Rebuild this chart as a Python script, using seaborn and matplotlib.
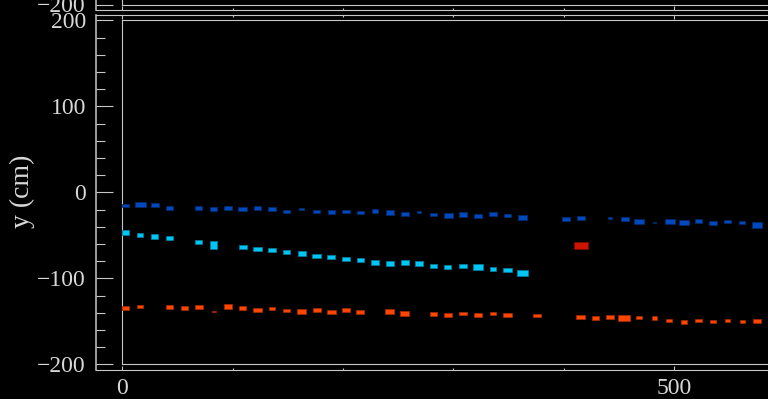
import numpy as np
import matplotlib
matplotlib.use("Agg")
import matplotlib.pyplot as plt
import seaborn as sns
from matplotlib.ticker import MultipleLocator, FixedLocator

# ---- hit data: x (cm), y (cm), box width (cm), box height (cm) ----
blue_x = [3.1, 16.3, 29.5, 42.8, 69.1, 82.5, 95.8, 108.9, 122.3, 135.7, 148.6, 162.6,
          175.8, 189.3, 202.7, 215.9, 229.3, 242.6, 256.0, 268.9, 282.2, 295.6, 308.8,
          322.5, 335.8, 349.1, 362.5, 401.9, 415.5, 442.0, 455.4, 468.5, 482.5, 496.1,
          508.9, 522.2, 535.5, 548.5, 561.8, 575.2]
blue_y = [-15.6, -14.4, -15.1, -17.9, -18.3, -19.7, -18.3, -19.7, -18.3, -19.7, -22.3,
          -19.7, -22.3, -23.1, -22.3, -23.5, -21.7, -23.7, -25.6, -23.1, -26.2, -27.0,
          -26.0, -27.3, -25.6, -26.7, -29.5, -31.0, -29.9, -29.9, -31.0, -34.0, -35.1,
          -34.0, -35.1, -33.6, -35.5, -34.2, -34.9, -37.8]
blue_w = [6.1, 9.7, 7.5, 6.9, 6.3, 6.6, 7.3, 8.2, 6.1, 6.7, 6.6, 4.8, 6.6, 6.3, 7.3, 6.3,
          5.4, 7.3, 7.0, 3.6, 6.1, 8.2, 7.3, 7.5, 7.0, 6.3, 8.4, 7.0, 7.0, 3.6, 7.0, 8.8,
          3.0, 9.1, 8.8, 6.9, 7.5, 6.3, 5.7, 9.1]
blue_h = [3.8, 6.2, 4.7, 4.7, 4.0, 4.3, 5.3, 4.3, 4.0, 4.3, 4.2, 2.7, 4.2, 4.3, 4.2, 3.5,
          4.0, 5.5, 4.7, 2.7, 3.5, 5.8, 5.5, 5.0, 4.7, 3.8, 5.5, 4.7, 4.7, 2.3, 4.7, 5.8,
          1.9, 5.8, 5.8, 5.0, 5.0, 3.8, 3.8, 6.6]

cyan_x = [3.1, 16.0, 29.5, 43.0, 69.1, 82.7, 109.2, 122.5, 135.5, 148.8, 162.7, 176.0,
          189.3, 202.6, 215.7, 229.2, 242.4, 255.9, 268.9, 282.2, 295.0, 308.6, 322.5,
          335.8, 349.1, 362.4]
cyan_y = [-46.7, -49.9, -51.2, -53.4, -57.6, -61.3, -63.4, -65.9, -66.9, -69.4, -71.4,
          -74.1, -75.0, -77.3, -79.0, -82.0, -82.6, -81.9, -82.8, -85.5, -86.6, -85.5,
          -86.9, -89.2, -90.6, -93.5]
cyan_w = [6.1, 6.0, 6.3, 6.1, 6.3, 6.9, 7.0, 8.2, 7.5, 6.9, 7.0, 7.6, 7.0, 7.5, 6.1, 7.5,
          7.0, 7.3, 7.3, 6.6, 6.3, 7.0, 9.3, 5.7, 8.2, 10.0]
cyan_h = [5.1, 4.3, 5.5, 4.3, 4.3, 9.3, 5.0, 5.3, 5.0, 5.3, 5.5, 5.3, 5.0, 5.0, 4.3, 5.8,
          5.5, 5.5, 5.8, 5.0, 4.3, 5.0, 6.3, 4.7, 5.0, 7.0]

orange_x = [3.1, 16.0, 42.8, 56.1, 69.5, 82.8, 95.8, 109.1, 122.5, 135.9, 149.0, 162.7,
            176.2, 189.4, 202.7, 215.6, 242.2, 255.6, 282.2, 295.4, 308.8, 322.4, 335.8,
            349.1, 375.7, 415.3, 428.7, 442.0, 454.9, 468.3, 482.3, 495.7, 508.9, 522.2,
            535.5, 548.5, 562.1, 575.4]
orange_y = [-134.5, -133.0, -133.6, -134.5, -133.6, -138.4, -133.1, -134.5, -137.1,
            -135.1, -137.7, -138.6, -137.1, -139.0, -137.1, -139.0, -138.6, -140.9,
            -141.5, -142.4, -141.2, -142.4, -141.2, -142.4, -143.0, -144.8, -146.4,
            -144.8, -146.2, -145.8, -146.4, -148.8, -150.6, -148.8, -150.2, -148.8,
            -150.2, -149.3]
orange_w = [6.1, 5.4, 6.9, 6.3, 7.3, 3.6, 7.8, 6.1, 8.2, 5.7, 6.6, 8.2, 7.3, 7.9, 7.3, 7.0,
            8.2, 7.9, 6.6, 7.0, 6.7, 7.3, 5.7, 8.2, 7.0, 8.2, 6.1, 6.7, 10.6, 5.4, 4.5, 5.7,
            5.2, 5.8, 5.2, 5.1, 5.1, 7.5]
orange_h = [4.7, 3.8, 5.0, 4.7, 5.0, 1.5, 5.8, 4.7, 5.0, 3.5, 3.8, 5.8, 5.0, 5.0, 5.0, 5.0,
            5.8, 5.8, 4.7, 5.0, 3.8, 5.0, 3.8, 5.0, 3.8, 5.0, 4.3, 5.0, 7.7, 3.8, 4.3, 3.8,
            4.3, 3.8, 3.5, 3.8, 3.5, 5.0]

red_x = [415.7]
red_y = [-61.9]
red_w = [12.7]
red_h = [8.1]

x_ticks_major = [0, 500]
y_limits = (-200, 200)
x_limits = (0, 600)
y_label = "y (cm)"

# ---- style ----
sns.set_theme(style="dark", rc={
    "figure.facecolor": "black",
    "axes.facecolor": "black",
    "savefig.facecolor": "black",
    "axes.edgecolor": "#c8c8c8",
    "text.color": "#d8d8d8",
    "axes.labelcolor": "#d8d8d8",
    "xtick.color": "#c8c8c8",
    "ytick.color": "#c8c8c8",
    "axes.grid": False,
})
plt.rcParams["font.family"] = ["Liberation Serif", "DejaVu Serif"]
plt.rcParams["axes.unicode_minus"] = True

W, H, DPI = 768, 399, 100
fig = plt.figure(figsize=(W / DPI, H / DPI), dpi=DPI)

PX_PER_X = 1.1034           # pixels per cm along x
FRAME_LEFT = 122.3          # pixel column of the frame edge
AXIS_SHIFT_Y = 26.3 * 72 / DPI   # ticked y axis sits left of the frame (pt)
AXIS_SHIFT_X = 5.8 * 72 / DPI    # ticked x axes sit outside the frame (pt)
LINE = "#c8c8c8"

ax_w = (x_limits[1] - x_limits[0]) * PX_PER_X / W
main_rect = [FRAME_LEFT / W, 1 - 364.3 / H, ax_w, 344 / H]
upper_rect = [FRAME_LEFT / W, 1 - 4.5 / H, ax_w, 344 / H]

cm_per_px_y = 400 / 344
ext_y = 5.8 * cm_per_px_y
ext_x = 26.3 / PX_PER_X


def make_frame(rect, sides):
    fr = fig.add_axes(rect)
    fr.set_xlim(*x_limits)
    fr.set_ylim(*y_limits)
    fr.set_xticks([])
    fr.set_yticks([])
    for name, sp in fr.spines.items():
        sp.set_visible(name in sides)
        sp.set_color(LINE)
        sp.set_linewidth(0.8)
    return fr


def make_axis(rect, top_axis, bottom_labels):
    a = fig.add_axes(rect)
    a.set_facecolor("none")
    a.set_xlim(*x_limits)
    a.set_ylim(*y_limits)
    a.spines["right"].set_visible(False)
    a.spines["top"].set_visible(top_axis)
    for name in ("left", "bottom", "top"):
        a.spines[name].set_color(LINE)
        a.spines[name].set_linewidth(0.8)
    a.spines["left"].set_linewidth(1.1)
    a.spines["left"].set_position(("outward", AXIS_SHIFT_Y))
    a.spines["bottom"].set_position(("outward", AXIS_SHIFT_X))
    a.spines["top"].set_position(("outward", AXIS_SHIFT_X))
    a.spines["left"].set_bounds(y_limits[0] - ext_y, y_limits[1] + (ext_y if top_axis else 0))
    a.spines["bottom"].set_bounds(x_limits[0] - ext_x, x_limits[1])
    a.spines["top"].set_bounds(x_limits[0] - ext_x, x_limits[1])

    a.yaxis.set_major_locator(MultipleLocator(100))
    a.yaxis.set_minor_locator(MultipleLocator(20))
    a.xaxis.set_major_locator(FixedLocator(x_ticks_major))
    a.xaxis.set_minor_locator(MultipleLocator(100))
    a.tick_params(axis="y", which="both", direction="in", left=True, right=False,
                  labelsize=17, pad=7.2, width=0.8, colors=LINE, labelcolor="#d8d8d8")
    a.tick_params(axis="y", which="major", length=12.2)
    a.tick_params(axis="y", which="minor", length=6.5)
    a.tick_params(axis="x", which="both", direction="in", bottom=True, top=top_axis,
                  labelbottom=bottom_labels, labeltop=False, labelsize=17, pad=5.5,
                  width=0.8, colors=LINE, labelcolor="#d8d8d8")
    a.tick_params(axis="x", which="major", length=3.0)
    a.tick_params(axis="x", which="minor", length=1.6)
    return a


# upper panel (only its lower edge is in view)
make_frame(upper_rect, {"left", "bottom"})
ax_up = make_axis(upper_rect, top_axis=False, bottom_labels=False)

# main panel
make_frame(main_rect, {"left", "top", "bottom"})
ax = make_axis(main_rect, top_axis=True, bottom_labels=True)


def draw_hits(a, x, y, w, h, face, edge):
    x, y, w, h = map(np.asarray, (x, y, w, h))
    a.bar(x, h, width=w, bottom=y - h / 2, align="center",
          color=face, edgecolor=edge, linewidth=0.6, zorder=3)


draw_hits(ax, blue_x, blue_y, blue_w, blue_h, "#0049bd", "#002a70")
draw_hits(ax, cyan_x, cyan_y, cyan_w, cyan_h, "#00c6f6", "#007a9a")
draw_hits(ax, orange_x, orange_y, orange_w, orange_h, "#ff4600", "#a02800")
draw_hits(ax, red_x, red_y, red_w, red_h, "#cc1400", "#7a0a00")

ax.set_ylabel(y_label, fontsize=20)
ax.yaxis.label.set_va("center")
ax.yaxis.set_label_coords((22 - FRAME_LEFT) / (ax_w * W), (364.3 - 191) / 344)

fig.savefig("out.png", dpi=DPI)
